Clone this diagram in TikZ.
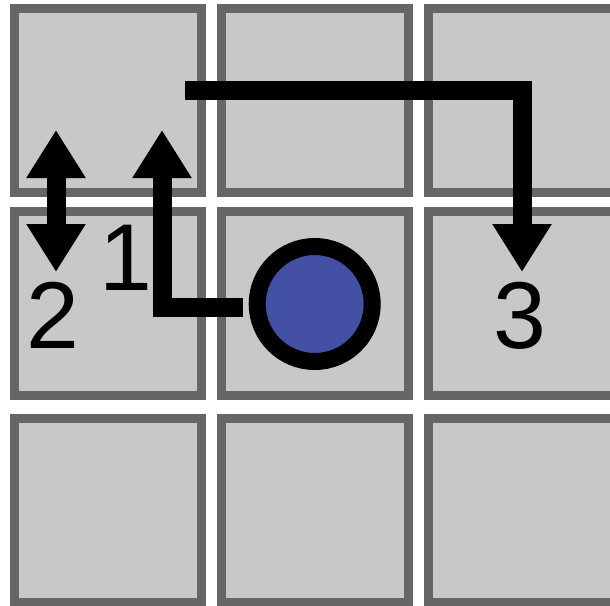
\documentclass[tikz,border=0pt]{standalone}
\usepackage{fontspec}
\setmainfont{Liberation Sans}
\usetikzlibrary{arrows.meta}
\definecolor{cellfill}{HTML}{C8C8C8}
\definecolor{cellline}{HTML}{666666}
\definecolor{dotblue}{RGB}{67,80,163}
\begin{document}
\begin{tikzpicture}[x=1pt,y=-1pt,
  cell/.style={draw=cellline,fill=cellfill,line width=9.4pt,minimum width=186.6pt,minimum height=183.6pt,inner sep=0pt,outer sep=0pt},
  route/.style={line width=19pt,line join=miter,line cap=butt},
  tip/.style={Triangle[length=48pt,width=56pt]},
  dot/.style={circle,draw=black,fill=dotblue,line width=17pt,minimum size=115pt,inner sep=0pt,outer sep=0pt},
  lbl/.style={font=\fontsize{95}{95}\selectfont,inner sep=0pt,anchor=base}]
\useasboundingbox (0,0) rectangle (610,605);
\clip (0,0) rectangle (610,605);
% grid of cells
\foreach \c/\x in {1/108,2/315,3/522}{
  \foreach \r/\y in {1/100.5,2/303.5,3/510.5}{
    \node[cell] (c\r\c) at (\x,\y) {};
  }
}
% the dot
\node[dot] (d) at (314.7,304) {};
% route coordinates
\coordinate (a1s) at (243,307);
\coordinate (a1c) at (162,307);
\coordinate (a1e) at (162,130);
\coordinate (a2t) at (56,130);
\coordinate (a2b) at (56,272);
\coordinate (a3s) at (185,90);
\coordinate (a3c) at (522,90);
\coordinate (a3e) at (522,272);
% arrows
\draw[route,-{Triangle[length=48pt,width=56pt]}] (a1s) -- (a1c) -- (a1e);
\draw[route,{Triangle[length=48pt,width=56pt]}-{Triangle[length=48pt,width=56pt]}] (a2t) -- (a2b);
\draw[route,-{Triangle[length=48pt,width=56pt]}] (a3s) -- (a3c) -- (a3e);
% labels
\node[lbl] (l1) at (126,290) {1};
\node[lbl] (l2) at (52.5,348) {2};
\node[lbl] (l3) at (520,348) {3};
\end{tikzpicture}
\end{document}
